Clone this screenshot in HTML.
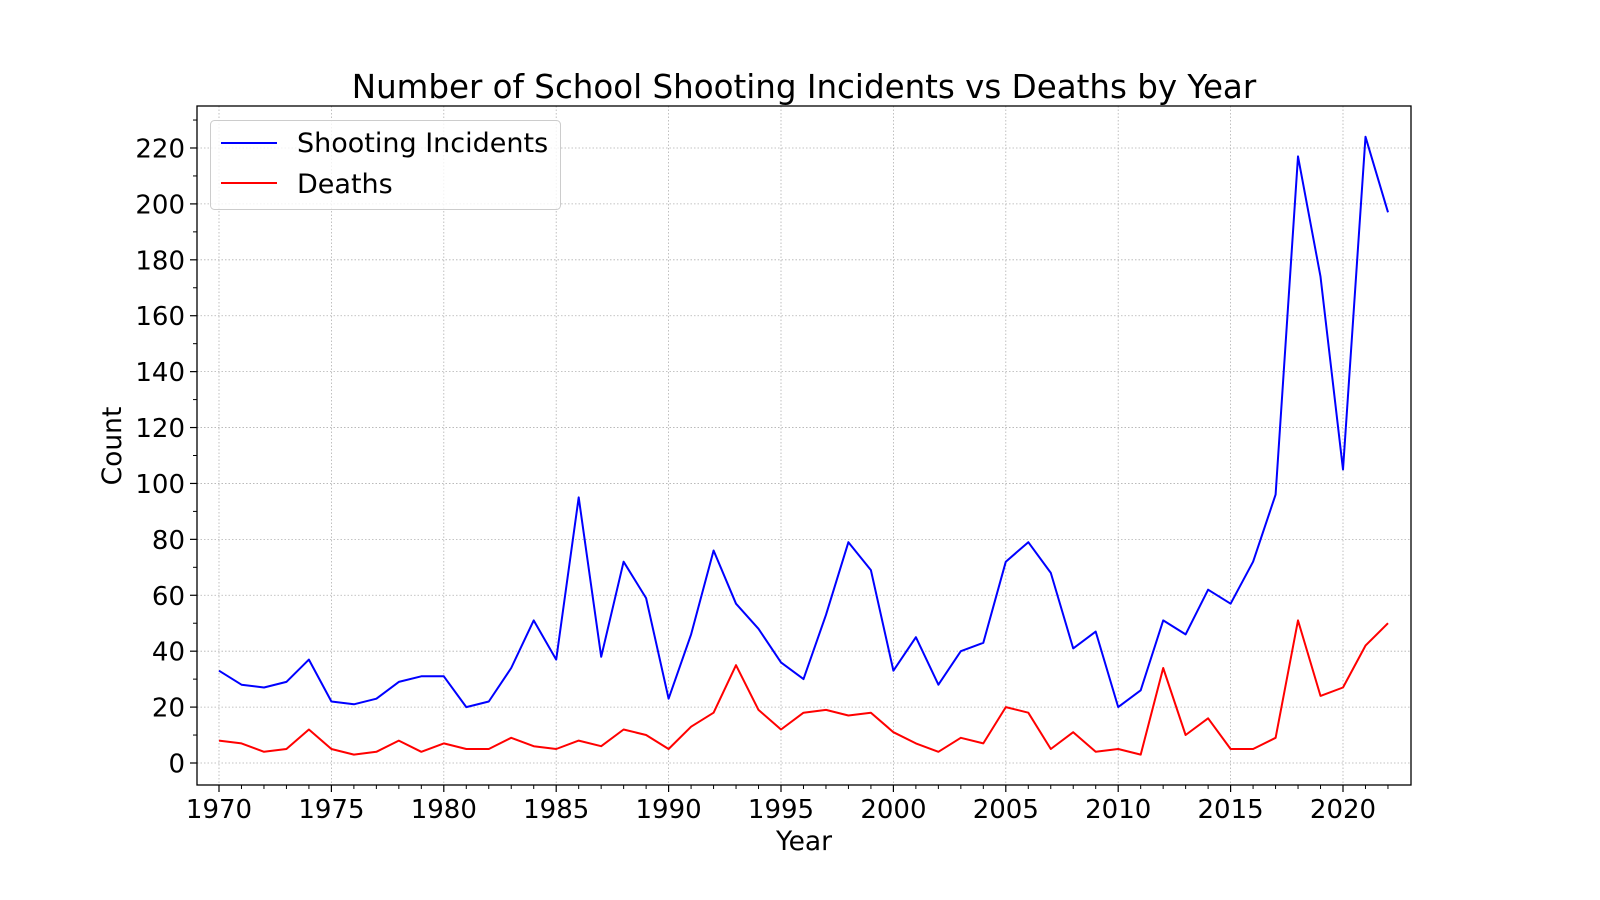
<!DOCTYPE html>
<html><head><meta charset="utf-8"><style>
html,body{margin:0;padding:0;background:#fff;}
svg{display:block;font-family:"DejaVu Sans","Liberation Sans",sans-serif;}
</style></head><body>
<svg id="s" width="1600" height="900" xmlns="http://www.w3.org/2000/svg">
<rect width="1600" height="900" fill="#fff"/>
<g id="grid"></g>
<g id="ticks"></g>
<polyline id="blue" fill="none" stroke="#0000ff" stroke-width="2" stroke-linejoin="round"/>
<polyline id="red" fill="none" stroke="#ff0000" stroke-width="2" stroke-linejoin="round"/>
<rect x="197" y="106" width="1214" height="679" fill="none" stroke="#000" stroke-width="1.3"/>
<text x="804" y="98" font-size="32.5" text-anchor="middle">Number of School Shooting Incidents vs Deaths by Year</text>
<text x="804" y="850" font-size="26.5" text-anchor="middle">Year</text>
<text transform="translate(121,446) rotate(-90)" font-size="26.5" text-anchor="middle">Count</text>
<rect x="210.5" y="120.5" width="350" height="89" rx="4" fill="#fff" fill-opacity="0.8" stroke="#ccc" stroke-width="1"/>
<line x1="221" y1="143" x2="277" y2="143" stroke="#0000ff" stroke-width="2"/>
<line x1="221" y1="183" x2="277" y2="183" stroke="#ff0000" stroke-width="2"/>
<text x="297" y="152" font-size="27">Shooting Incidents</text>
<text x="297" y="193" font-size="27">Deaths</text>
</svg>
<script>
var B=[33,28,27,29,37,22,21,23,29,31,31,20,22,34,51,37,95,38,72,59,23,46,76,57,48,36,30,53,79,69,33,45,28,40,43,72,79,68,41,47,20,26,51,46,62,57,72,96,217,174,105,224,197];
var R=[8,7,4,5,12,5,3,4,8,4,7,5,5,9,6,5,8,6,12,10,5,13,18,35,19,12,18,19,17,18,11,7,4,9,7,20,18,5,11,4,5,3,34,10,16,5,5,9,51,24,27,42,50];
function X(y){return 219+(y-1970)*22.48;}
function Y(v){return 763-v*2.7955;}
function pts(a){return a.map(function(v,i){return X(1970+i).toFixed(1)+","+Y(v).toFixed(1);}).join(" ");}
document.getElementById("blue").setAttribute("points",pts(B));
document.getElementById("red").setAttribute("points",pts(R));
var ns="http://www.w3.org/2000/svg",g=document.getElementById("grid"),t=document.getElementById("ticks");
function el(p,n,a,txt){var e=document.createElementNS(ns,n);for(var k in a)e.setAttribute(k,a[k]);if(txt!==undefined)e.textContent=txt;p.appendChild(e);}
for(var y=1970;y<=2020;y+=5){var x=X(y);
el(g,"line",{x1:x,y1:106,x2:x,y2:785,stroke:"#b0b0b0","stroke-width":0.8,"stroke-dasharray":"1.5,2"});
el(t,"line",{x1:x,y1:785,x2:x,y2:792,stroke:"#000","stroke-width":1.2});
el(t,"text",{x:x,y:818,"font-size":26,"text-anchor":"middle"},y);}
for(var y=1970;y<=2022;y++){if(y%5)el(t,"line",{x1:X(y),y1:785,x2:X(y),y2:789,stroke:"#000","stroke-width":1});}
for(var v=0;v<=220;v+=20){var yy=Y(v);
el(g,"line",{x1:197,y1:yy,x2:1411,y2:yy,stroke:"#b0b0b0","stroke-width":0.8,"stroke-dasharray":"1.5,2"});
el(t,"line",{x1:190,y1:yy,x2:197,y2:yy,stroke:"#000","stroke-width":1.2});
el(t,"text",{x:185,y:yy+9.5,"font-size":26,"text-anchor":"end"},v);}
for(var v=0;v<=230;v+=10){if(v%20)el(t,"line",{x1:193,y1:Y(v),x2:197,y2:Y(v),stroke:"#000","stroke-width":1});}
</script>
</body></html>
